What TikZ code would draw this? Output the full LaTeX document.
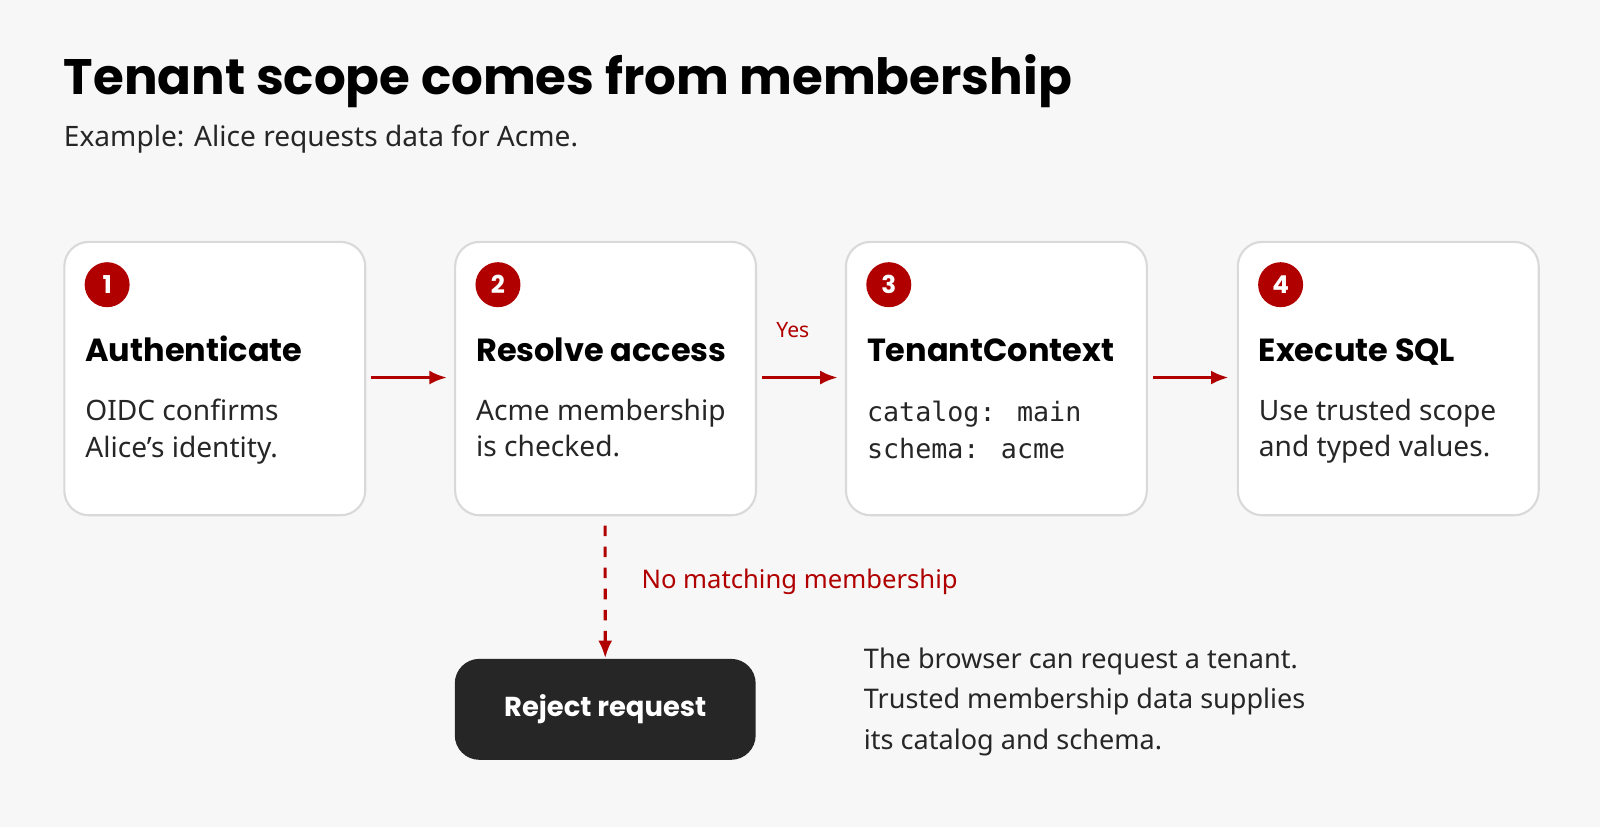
\documentclass[tikz,border=0pt]{standalone}
\usepackage{fontspec}
\setmainfont{Noto Sans}
\newfontfamily\pop{Poppins}
\newfontfamily\monof{DejaVu Sans Mono}
\usetikzlibrary{arrows.meta}
\definecolor{bg}{HTML}{F7F7F7}
\definecolor{red1}{HTML}{B00000}
\definecolor{bord}{HTML}{D9D9D9}
\definecolor{dark}{HTML}{262626}
\begin{document}
\begin{tikzpicture}[x=0.010204cm,y=-0.010204cm,
 card/.style={draw=bord,line width=0.6pt,fill=white,rounded corners=7pt,minimum width=3.01cm,minimum height=2.735cm,anchor=north west},
 num/.style={circle,fill=red1,text=white,font=\pop\bfseries\fontsize{7}{8}\selectfont,minimum size=0.45cm,inner sep=0},
 ttl/.style={anchor=base west,font=\pop\bfseries\fontsize{9.1}{10}\selectfont,inner sep=0},
 body/.style={anchor=north west,font=\fontsize{8}{10.5}\selectfont,align=left,inner sep=0,text=black!85},
 arr/.style={red1,line width=0.9pt,-{Latex[length=5pt,width=4pt]}}]
\fill[bg] (0,0) rectangle (1568,810);
\useasboundingbox (0,0) rectangle (1568,810);
\node[anchor=base west,inner sep=0,font=\pop\bfseries\fontsize{14.2}{17}\selectfont] (title) at (62,93) {Tenant scope comes from membership};
\node[anchor=base west,inner sep=0,font=\fontsize{8}{10}\selectfont,text=black!85] (sub) at (62,144) {Example: Alice requests data for Acme.};
\foreach \n/\x/\t in {1/62/Authenticate,2/445/Resolve access,3/828/TenantContext,4/1212/Execute SQL}{
 \node[card] (c\n) at (\x,236) {};
 \node[num] (n\n) at (\x+43,279) {\n};
 \node[ttl] (t\n) at (\x+21,354) {\t};
}
\node[body] (b1) at (83,390) {OIDC confirms\\Alice's identity.};
\node[body] (b2) at (466,390) {Acme membership\\is checked.};
\node[body,font=\monof\fontsize{7.6}{10.5}\selectfont] (b3) at (849,392) {catalog: main\\schema: acme};
\node[body] (b4) at (1233,390) {Use trusted scope\\and typed values.};
\coordinate (a1s) at (364,370); \coordinate (a1e) at (438,370);
\coordinate (a2s) at (747,370); \coordinate (a2e) at (821,370);
\coordinate (a3s) at (1130,370); \coordinate (a3e) at (1204,370);
\draw[arr] (a1s) -- (a1e);
\draw[arr] (a2s) -- (a2e);
\draw[arr] (a3s) -- (a3e);
\node[text=red1,font=\fontsize{6}{7}\selectfont] (yes) at (777,323) {Yes};
\node[fill=dark,rounded corners=7pt,minimum width=3.01cm,minimum height=1.01cm,anchor=north west] (rej) at (445,645) {};
\node[text=white,font=\pop\bfseries\fontsize{7.8}{10}\selectfont] (rejt) at (rej.center) {Reject request};
\coordinate (ds) at (593,515);
\draw[arr,dash pattern=on 3pt off 3pt] (ds) -- (rej.north);
\node[anchor=base west,inner sep=0,text=red1,font=\fontsize{7.3}{9}\selectfont] (nm) at (628,577) {No matching membership};
\node[body,font=\fontsize{7.7}{11.6}\selectfont] (note) at (846,634) {The browser can request a tenant.\\Trusted membership data supplies\\its catalog and schema.};
\end{tikzpicture}
\end{document}
